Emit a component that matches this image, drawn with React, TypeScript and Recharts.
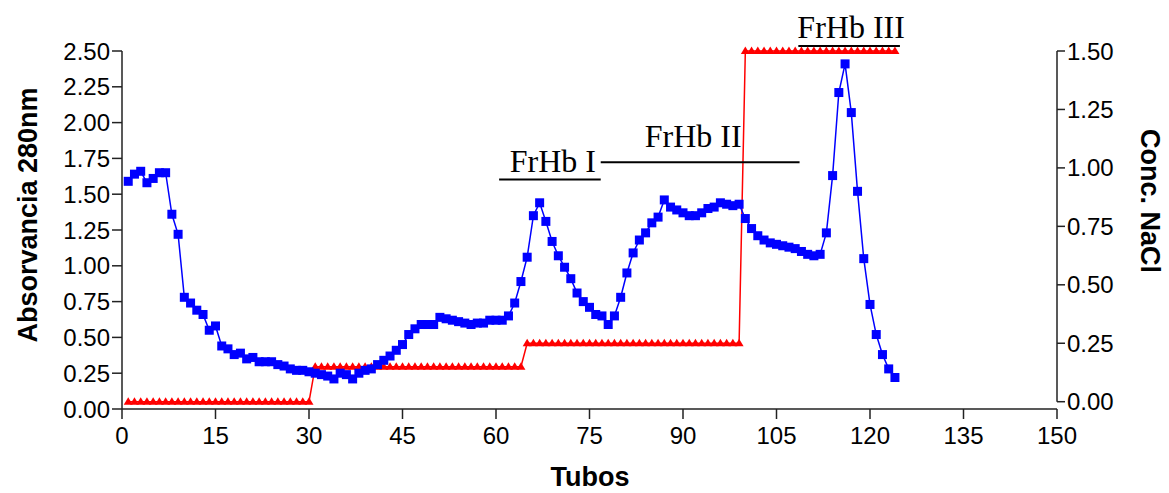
import { ComposedChart, Line, XAxis, YAxis, ReferenceLine, Label } from 'recharts';

// absorbance at 280 nm, tubes 1..124
const ABS_280 = [
  1.59, 1.64, 1.66, 1.58, 1.61, 1.65, 1.65, 1.36, 1.22, 0.78,
  0.74, 0.69, 0.66, 0.55, 0.58, 0.44, 0.42, 0.38, 0.39, 0.35,
  0.36, 0.33, 0.33, 0.33, 0.31, 0.3, 0.28, 0.27, 0.27, 0.26,
  0.25, 0.24, 0.23, 0.21, 0.25, 0.24, 0.21, 0.25, 0.27, 0.28,
  0.31, 0.34, 0.37, 0.41, 0.45, 0.52, 0.56, 0.59, 0.59, 0.59,
  0.64, 0.63, 0.62, 0.61, 0.6, 0.59, 0.6, 0.6, 0.62, 0.62,
  0.62, 0.65, 0.74, 0.89, 1.06, 1.35, 1.44, 1.31, 1.17, 1.07,
  0.99, 0.91, 0.81, 0.75, 0.71, 0.66, 0.65, 0.59, 0.65, 0.78,
  0.95, 1.09, 1.18, 1.23, 1.3, 1.34, 1.46, 1.41, 1.39, 1.37,
  1.35, 1.35, 1.37, 1.4, 1.41, 1.44, 1.43, 1.42, 1.43, 1.33,
  1.26, 1.21, 1.18, 1.16, 1.15, 1.14, 1.13, 1.12, 1.1, 1.08,
  1.07, 1.08, 1.23, 1.63, 2.21, 2.41, 2.07, 1.52, 1.05, 0.73,
  0.52, 0.38, 0.28, 0.22,
];

// NaCl gradient steps, tubes 1..124
const NACL = [
  0, 0, 0, 0, 0, 0, 0, 0, 0, 0,
  0, 0, 0, 0, 0, 0, 0, 0, 0, 0,
  0, 0, 0, 0, 0, 0, 0, 0, 0, 0,
  0.15, 0.15, 0.15, 0.15, 0.15, 0.15, 0.15, 0.15, 0.15, 0.15,
  0.15, 0.15, 0.15, 0.15, 0.15, 0.15, 0.15, 0.15, 0.15, 0.15,
  0.15, 0.15, 0.15, 0.15, 0.15, 0.15, 0.15, 0.15, 0.15, 0.15,
  0.15, 0.15, 0.15, 0.15, 0.25, 0.25, 0.25, 0.25, 0.25, 0.25,
  0.25, 0.25, 0.25, 0.25, 0.25, 0.25, 0.25, 0.25, 0.25, 0.25,
  0.25, 0.25, 0.25, 0.25, 0.25, 0.25, 0.25, 0.25, 0.25, 0.25,
  0.25, 0.25, 0.25, 0.25, 0.25, 0.25, 0.25, 0.25, 0.25, 1.5,
  1.5, 1.5, 1.5, 1.5, 1.5, 1.5, 1.5, 1.5, 1.5, 1.5,
  1.5, 1.5, 1.5, 1.5, 1.5, 1.5, 1.5, 1.5, 1.5, 1.5,
  1.5, 1.5, 1.5, 1.5,
];

const X_TICKS = [0, 15, 30, 45, 60, 75, 90, 105, 120, 135, 150];
const LEFT_TICKS = [0, 0.25, 0.5, 0.75, 1, 1.25, 1.5, 1.75, 2, 2.25, 2.5];
const RIGHT_TICKS = [0, 0.25, 0.5, 0.75, 1, 1.25, 1.5];

// fraction bars drawn above the peaks
const FRACTIONS = ['FrHb I', 'FrHb II', 'FrHb III'];
const FRACTION_FROM = [60.5, 76.8, 108.5];
const FRACTION_TO = [76.8, 108.7, 124.8];
const FRACTION_AT = [1.603, 1.723, 2.535];

const data = ABS_280.map((a, i) => ({ tube: i + 1, abs: a, nacl: NACL[i] }));

const tickFont = { fill: '#000', fontSize: 24, fontFamily: 'Liberation Sans, Arial, sans-serif' };
const titleFont = { fill: '#000', fontSize: 27, fontWeight: 700, fontFamily: 'Liberation Sans, Arial, sans-serif' };

const labelShift = [
  { dx: 3, gap: 7 },
  { dx: -7, gap: 15 },
  { dx: 2, gap: 8 },
];

function Square(props: any) {
  const { cx, cy, index } = props;
  if (cx == null || cy == null) return <g key={`s${index}`} />;
  return <rect key={`s${index}`} x={cx - 4.5} y={cy - 4.5} width={9} height={9} fill="#0000ff" />;
}

function Triangle(props: any) {
  const { cx, cy, index } = props;
  if (cx == null || cy == null) return <g key={`t${index}`} />;
  return (
    <path
      key={`t${index}`}
      d={`M${cx},${cy - 4.5} L${cx + 4.5},${cy + 3} L${cx - 4.5},${cy + 3} Z`}
      fill="#ff0000"
    />
  );
}

export default function App() {
  return (
    <div style={{ position: 'absolute', left: 0, top: 0, background: '#fff' }}>
      <ComposedChart
        width={1169}
        height={493}
        data={data}
        margin={{ top: 51, right: 0, bottom: 0, left: 0 }}
      >
        <XAxis
          dataKey="tube"
          type="number"
          domain={[0, 150]}
          ticks={X_TICKS}
          interval={0}
          height={84}
          tickSize={10}
          tickMargin={8}
          tick={tickFont}
          axisLine={{ stroke: '#222', strokeWidth: 1.5 }}
          tickLine={{ stroke: '#222', strokeWidth: 1.5 }}
        >
          <Label
            content={() => (
              <text x={590} y={486} textAnchor="middle" style={titleFont}>
                Tubos
              </text>
            )}
          />
        </XAxis>
        <YAxis
          yAxisId="left"
          domain={[0, 2.5]}
          ticks={LEFT_TICKS}
          interval={0}
          width={122}
          tickSize={10}
          tick={tickFont}
          tickFormatter={(v: number) => v.toFixed(2)}
          axisLine={{ stroke: '#222', strokeWidth: 1.5 }}
          tickLine={{ stroke: '#222', strokeWidth: 1.5 }}
        >
          <Label
            content={() => (
              <text
                x={28}
                y={215}
                transform="rotate(-90 28 215)"
                textAnchor="middle"
                dominantBaseline="central"
                style={titleFont}
              >
                Absorvancia 280nm
              </text>
            )}
          />
        </YAxis>
        <YAxis
          yAxisId="right"
          orientation="right"
          domain={[-0.0312, 1.5]}
          ticks={RIGHT_TICKS}
          interval={0}
          width={112}
          tickSize={8}
          tick={tickFont}
          tickFormatter={(v: number) => v.toFixed(2)}
          axisLine={false}
          tickLine={{ stroke: '#222', strokeWidth: 1.5 }}
        >
          <Label
            content={() => (
              <text
                x={1150}
                y={201}
                transform="rotate(90 1150 201)"
                textAnchor="middle"
                dominantBaseline="central"
                style={titleFont}
              >
                Conc. NaCl
              </text>
            )}
          />
        </YAxis>

        <ReferenceLine
          yAxisId="right"
          segment={[{ x: 150, y: 0 }, { x: 150, y: 1.5 }]}
          stroke="#222"
          strokeWidth={1.5}
          ifOverflow="visible"
        />

        <Line
          yAxisId="right"
          dataKey="nacl"
          stroke="#ff0000"
          strokeWidth={1.5}
          dot={Triangle}
          activeDot={false}
          isAnimationActive={false}
        />
        <Line
          yAxisId="left"
          dataKey="abs"
          stroke="#0000ff"
          strokeWidth={1.5}
          dot={Square}
          activeDot={false}
          isAnimationActive={false}
        />

        {FRACTIONS.map((name, i) => (
          <ReferenceLine
            key={name}
            yAxisId="left"
            segment={[
              { x: FRACTION_FROM[i], y: FRACTION_AT[i] },
              { x: FRACTION_TO[i], y: FRACTION_AT[i] },
            ]}
            stroke="#000"
            strokeWidth={2}
            ifOverflow="visible"
            label={(p: any) => {
              const vb = p.viewBox || {};
              const cx = (vb.x ?? 0) + (vb.width ?? 0) / 2 + labelShift[i].dx;
              const y = (vb.y ?? 0) - labelShift[i].gap;
              return (
                <text
                  x={cx}
                  y={y}
                  textAnchor="middle"
                  fill="#000"
                  fontSize={32}
                  fontFamily="Liberation Serif, Times New Roman, serif"
                >
                  {name}
                </text>
              );
            }}
          />
        ))}
      </ComposedChart>
    </div>
  );
}
